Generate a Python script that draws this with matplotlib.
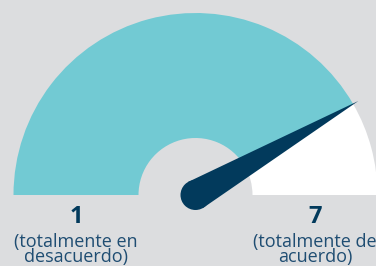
import numpy as np
import matplotlib
matplotlib.use("Agg")
from matplotlib import pyplot as plt
from matplotlib.patches import Wedge, Circle, Polygon

# scale and value
scale_min = 1
scale_max = 7
value = 6.0
end_labels = ["1", "7"]
end_texts = ["(totalmente en\ndesacuerdo)", "(totalmente de\nacuerdo)"]

bg = "#dcdddf"
teal = "#72cad3"
navy = "#023a5c"
txt = "#1f4d72"

plt.rcParams['font.family'] = ['Open Sans', 'DejaVu Sans']

fig = plt.figure(figsize=(3.76, 2.66), dpi=100, facecolor=bg)
ax = fig.add_axes([0, 0, 1, 1])
ax.set_facecolor(bg)
ax.set_xlim(0, 376)
ax.set_ylim(0, 266)
ax.axis('off')

cx, cy = 195.5, 71
R, r = 182, 57

def to_angle(v):
    return 180 * (1 - (v - scale_min) / (scale_max - scale_min))

a = to_angle(value)
ax.add_patch(Wedge((cx, cy), R, a, 180, width=R - r, facecolor=teal, edgecolor='none'))
ax.add_patch(Wedge((cx, cy), R, 0, a, width=R - r, facecolor='white', edgecolor='none'))

# needle
hub = 15
L = 188
t = np.deg2rad(a)
tip = (cx + L * np.cos(t), cy + L * np.sin(t))
p1 = (cx + hub * np.cos(t + np.pi / 2), cy + hub * np.sin(t + np.pi / 2))
p2 = (cx + hub * np.cos(t - np.pi / 2), cy + hub * np.sin(t - np.pi / 2))
ax.add_patch(Polygon([p1, tip, p2], closed=True, facecolor=navy, edgecolor='none'))
ax.add_patch(Circle((cx, cy), hub, facecolor=navy, edgecolor='none'))

# end labels
for sign, lab, desc in zip([-1, 1], end_labels, end_texts):
    x = cx + sign * (R + r) / 2
    ax.text(x, 49, lab, ha='center', va='center', fontsize=17, fontweight='bold', color=navy)
    ax.text(x, 4, desc, ha='center', va='baseline', fontsize=13, color=txt, linespacing=0.8)

fig.savefig("out.png", dpi=100, facecolor=bg)
